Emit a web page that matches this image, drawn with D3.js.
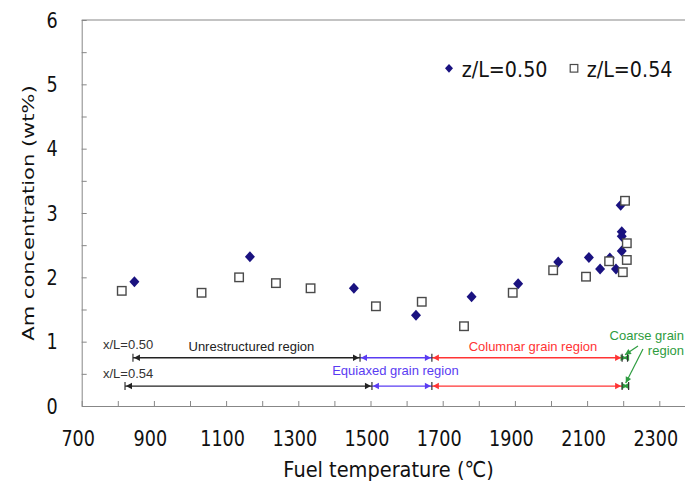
<!DOCTYPE html>
<html>
<head>
<meta charset="utf-8">
<script src="https://cdn.jsdelivr.net/npm/d3@7"></script>
<style>
  body { margin: 0; background: #fff; }
  svg { display: block; }
</style>
</head>
<body>
<svg id="chart" width="685" height="491"></svg>
<script>
// Am concentration (wt%) against fuel temperature at two axial positions
const tempsZ050 = [846, 1166, 1454, 1626, 1780, 1909, 2020, 2105, 2136, 2163, 2180, 2193, 2196, 2196, 2196];
const amZ050    = [1.93, 2.32, 1.83, 1.41, 1.70, 1.90, 2.24, 2.31, 2.13, 2.30, 2.13, 3.12, 2.71, 2.64, 2.41];
const tempsZ054 = [811, 1032, 1136, 1238, 1334, 1515, 1642, 1759, 1894, 2006, 2097, 2161, 2199, 2205, 2210, 2210];
const amZ054    = [1.79, 1.76, 2.00, 1.91, 1.83, 1.55, 1.62, 1.24, 1.76, 2.11, 2.01, 2.25, 2.08, 3.19, 2.53, 2.27];
const seriesNames = ["z/L=0.50", "z/L=0.54"];

const xTicks  = d3.range(700, 2401, 100);
const xLabels = [700, 900, 1100, 1300, 1500, 1700, 1900, 2100, 2300];
const yTicks  = d3.range(0, 6.01, 0.5);
const yLabels = [0, 1, 2, 3, 4, 5, 6];

// Microstructure regions along each radial line (boundary temperatures)
const rowNames   = ["x/L=0.50", "x/L=0.54"];
const rowLevels  = [0.75, 0.31];
const boundsX050 = [842, 1471, 1670, 2197, 2212];
const boundsX054 = [820, 1504, 1670, 2197, 2215];
const regionNames  = ["Unrestructured region", "Equiaxed grain region", "Columnar grain region", "Coarse grain region"];
const regionColors = ["#222222", "#5a3cf2", "#ff3434", "#2e9c40"];

const svg = d3.select("#chart");
const x = d3.scaleLinear().domain([700, 2400]).range([81.7, 695.4]);
const y = d3.scaleLinear().domain([0, 6]).range([406, 20]);
const axisColor = "#878787";
const FONT = "'DejaVu Sans', Verdana, sans-serif";
const SMALL = "'Liberation Sans', Arial, sans-serif";

// top frame line
svg.append("line")
  .attr("x1", x(700)).attr("x2", x(2400))
  .attr("y1", y(6)).attr("y2", y(6))
  .attr("stroke", axisColor).attr("stroke-width", 1);

// x axis
const gx = svg.append("g")
  .attr("transform", `translate(0,${y(0)})`)
  .call(d3.axisBottom(x).tickValues(xTicks).tickSizeInner(-5).tickSizeOuter(0)
    .tickPadding(24).tickFormat(d => xLabels.includes(d) ? d : ""));
gx.select(".domain").attr("stroke", axisColor);
gx.selectAll(".tick line").attr("stroke", axisColor);
gx.selectAll("text")
  .attr("font-family", FONT).attr("font-size", 22).attr("fill", "#111")
  .attr("transform", "translate(-4,0) scale(0.8,1)");

// y axis
const gy = svg.append("g")
  .attr("transform", `translate(${x(700)},0)`)
  .call(d3.axisLeft(y).tickValues(yTicks).tickSizeInner(-5).tickSizeOuter(0)
    .tickFormat(d => yLabels.includes(d) ? d : ""));
gy.select(".domain").attr("stroke", axisColor);
gy.selectAll(".tick line").attr("stroke", axisColor);
gy.selectAll("text")
  .attr("x", 0)
  .attr("font-family", FONT).attr("font-size", 22).attr("fill", "#111")
  .attr("transform", "translate(-24,0) scale(0.8,1)");

// axis titles
svg.append("text")
  .attr("transform", `translate(${(x(700) + x(2400)) / 2},477) scale(0.88,1)`)
  .attr("text-anchor", "middle")
  .attr("font-family", FONT).attr("font-size", 22).attr("fill", "#111")
  .text("Fuel temperature (℃)");

svg.append("text")
  .attr("transform", `translate(34,${(y(0) + y(6)) / 2}) rotate(-90) scale(1,0.78)`)
  .attr("text-anchor", "middle")
  .attr("font-family", FONT).attr("font-size", 21).attr("fill", "#111")
  .text("Am concentration (wt%)");

// region bands with double-headed arrows
const rows = [boundsX050, boundsX054];
const arrowLen = 6, arrowHalf = 3.2;
rows.forEach((bounds, r) => {
  const yy = y(rowLevels[r]);
  const g = svg.append("g");
  for (let i = 0; i < bounds.length - 1; i++) {
    const x0 = x(bounds[i]), x1 = x(bounds[i + 1]);
    const c = regionColors[i];
    g.append("line")
      .attr("x1", x0).attr("x2", x1).attr("y1", yy).attr("y2", yy)
      .attr("stroke", c).attr("stroke-width", 1.3);
    // left-pointing head at the start, right-pointing head at the end
    g.append("path")
      .attr("d", `M${x0 + 1},${yy} L${x0 + 1 + arrowLen},${yy - arrowHalf} L${x0 + 1 + arrowLen},${yy + arrowHalf} Z`)
      .attr("fill", c);
    g.append("path")
      .attr("d", `M${x1 - 1},${yy} L${x1 - 1 - arrowLen},${yy - arrowHalf} L${x1 - 1 - arrowLen},${yy + arrowHalf} Z`)
      .attr("fill", c);
  }
  bounds.forEach(b => {
    g.append("line")
      .attr("x1", x(b)).attr("x2", x(b)).attr("y1", yy - 4).attr("y2", yy + 4)
      .attr("stroke", "#333").attr("stroke-width", 1.2);
  });
  svg.append("text")
    .attr("x", x(759)).attr("y", y(rowLevels[r] + 0.2) + 4.5)
    .attr("font-family", SMALL).attr("font-size", 13).attr("fill", "#333")
    .text(rowNames[r]);
});

// region names
const labelSpec = [
  { i: 0, t: 1170, v: 0.93 },
  { i: 1, t: 1569, v: 0.55 },
  { i: 2, t: 1950, v: 0.92 }
];
labelSpec.forEach(s => {
  svg.append("text")
    .attr("x", x(s.t)).attr("y", y(s.v) + 4.5)
    .attr("text-anchor", "middle")
    .attr("font-family", SMALL).attr("font-size", 13).attr("fill", regionColors[s.i])
    .text(regionNames[s.i]);
});
const coarseWords = regionNames[3].split(" ");
const coarse = svg.append("text")
  .attr("text-anchor", "end")
  .attr("font-family", SMALL).attr("font-size", 13).attr("fill", regionColors[3]);
coarse.append("tspan").attr("x", 684).attr("y", 339.5).text(coarseWords.slice(0, 2).join(" "));
coarse.append("tspan").attr("x", 684).attr("y", 354.5).text(coarseWords[2]);

// leader arrows from the coarse-grain label to both bands
const leaders = [
  { from: [638, 346], to: [x(2205), y(rowLevels[0]) - 3] },
  { from: [643, 349], to: [x(2207), y(rowLevels[1]) - 3] }
];
leaders.forEach(l => {
  const [fx, fy] = l.from, [tx, ty] = l.to;
  const ang = Math.atan2(ty - fy, tx - fx);
  svg.append("line")
    .attr("x1", fx).attr("y1", fy).attr("x2", tx).attr("y2", ty)
    .attr("stroke", regionColors[3]).attr("stroke-width", 1.2);
  const hl = 6, hw = 3;
  const bx = tx - hl * Math.cos(ang), by = ty - hl * Math.sin(ang);
  svg.append("path")
    .attr("d", `M${tx},${ty} L${bx + hw * Math.sin(ang)},${by - hw * Math.cos(ang)} L${bx - hw * Math.sin(ang)},${by + hw * Math.cos(ang)} Z`)
    .attr("fill", regionColors[3]);
});

// markers
const diamondColor = "#1a1280";
const diamond = (cx, cy) => `M${cx},${cy - 5.5} L${cx + 5},${cy} L${cx},${cy + 5.5} L${cx - 5},${cy} Z`;
const squareSide = 8.5;

svg.append("g").selectAll("path")
  .data(d3.zip(tempsZ050, amZ050))
  .join("path")
  .attr("d", d => diamond(x(d[0]), y(d[1])))
  .attr("fill", diamondColor);

svg.append("g").selectAll("rect")
  .data(d3.zip(tempsZ054, amZ054))
  .join("rect")
  .attr("x", d => x(d[0]) - squareSide / 2).attr("y", d => y(d[1]) - squareSide / 2)
  .attr("width", squareSide).attr("height", squareSide)
  .attr("fill", "#fff").attr("stroke", "#4a4a4a").attr("stroke-width", 1.4);

// legend
const leg = svg.append("g");
leg.append("path").attr("d", diamond(449, 68.3)).attr("fill", diamondColor)
  .attr("transform", "translate(449,68.3) scale(0.8) translate(-449,-68.3)");
leg.append("text")
  .attr("transform", "translate(461.7,76.5) scale(0.87,1)")
  .attr("font-family", FONT).attr("font-size", 22).attr("fill", "#111")
  .text(seriesNames[0]);
leg.append("rect")
  .attr("x", 574 - 3.8).attr("y", 68.3 - 3.8).attr("width", 7.6).attr("height", 7.6)
  .attr("fill", "#fff").attr("stroke", "#4a4a4a").attr("stroke-width", 1.2);
leg.append("text")
  .attr("transform", "translate(586.7,76.5) scale(0.87,1)")
  .attr("font-family", FONT).attr("font-size", 22).attr("fill", "#111")
  .text(seriesNames[1]);
</script>
</body>
</html>
